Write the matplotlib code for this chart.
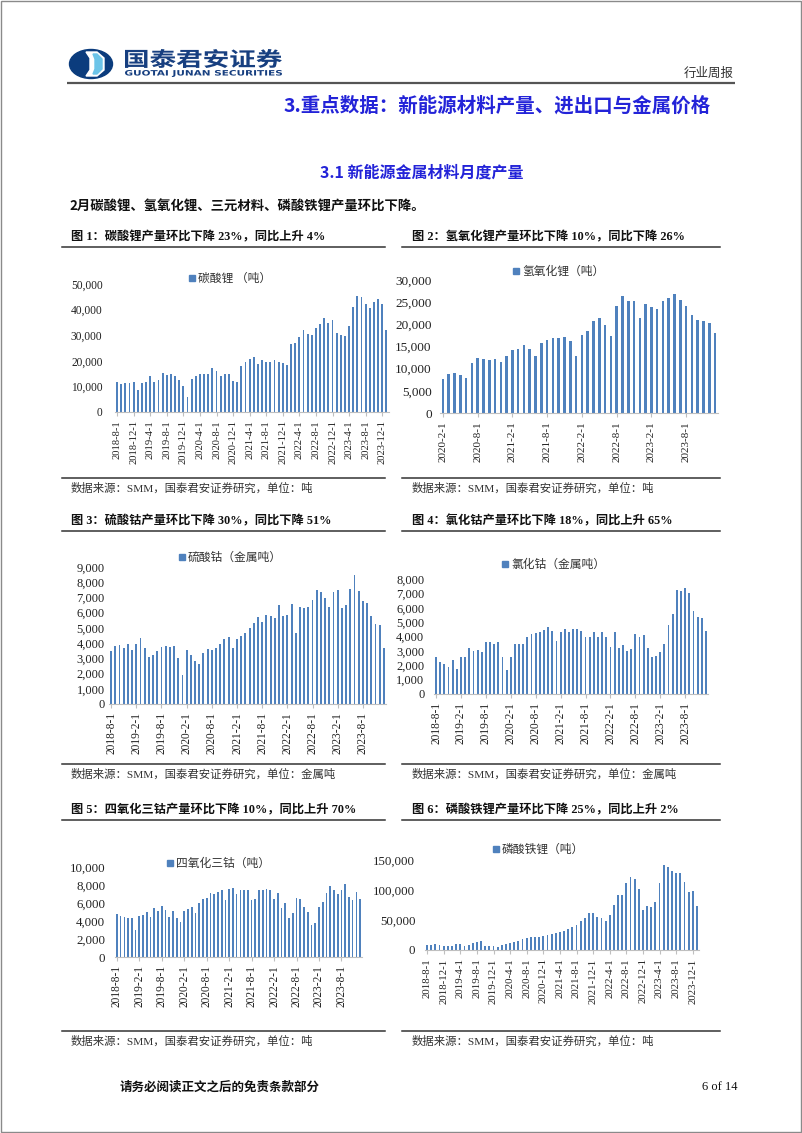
import numpy as np
import matplotlib
matplotlib.use('Agg')
import matplotlib.pyplot as plt
from matplotlib.patches import Ellipse, Polygon, Rectangle, PathPatch
from matplotlib.textpath import TextPath
from matplotlib.font_manager import FontProperties
import matplotlib.transforms as mtransforms

# ---------------- data ----------------
def months(y, m, n):
    out = []
    for i in range(n):
        yy = y + (m - 1 + i) // 12
        mm = (m - 1 + i) % 12 + 1
        out.append(f'{yy}-{mm}-1')
    return out

cat_2018 = months(2018, 8, 66)
cat_2020 = months(2020, 2, 48)

li2co3 = [11800, 11000, 11300, 11500, 11800, 8500, 11200, 11800, 14000, 11800,
          12500, 15200, 14500, 15000, 14000, 12500, 10000, 6000, 13000, 14000,
          14800, 14800, 14800, 17000, 16000, 14000, 14800, 14800, 12200, 11800,
          17800, 19500, 20800, 21300, 18800, 20500, 19500, 19500, 20300, 19500,
          19000, 18500, 26500, 26800, 29300, 32000, 30500, 30000, 32800, 34500,
          36600, 34700, 36000, 31000, 30000, 29700, 33500, 41000, 45500, 45000,
          42000, 40500, 43000, 44200, 42000, 32000]

lioh = [7700, 8800, 9000, 8600, 7900, 11300, 12400, 12200, 12000, 12100,
        11500, 12900, 14200, 14400, 15400, 14500, 12900, 15800, 16500, 17000,
        17000, 17100, 16300, 12900, 17600, 18500, 20800, 21500, 19900, 17400,
        24200, 26400, 25300, 25300, 21500, 24500, 24000, 23500, 25300, 26000,
        26800, 25600, 24200, 22100, 21000, 20800, 20300, 18100]

coso4 = [3450, 3800, 3850, 3700, 3950, 3550, 3950, 4350, 3650, 3100,
         3250, 3450, 3750, 3800, 3750, 3800, 3050, 1900, 3550, 3200,
         2800, 2650, 3350, 3600, 3550, 3650, 3950, 4250, 4400, 3650,
         4300, 4450, 4650, 5000, 5300, 5700, 5400, 5850, 5800, 5650,
         6500, 5800, 5850, 6550, 4650, 6400, 6300, 6400, 6850, 7500,
         7350, 6950, 6400, 7350, 7500, 6300, 6500, 7550, 8450, 7400,
         6750, 6650, 5800, 5250, 5200, 3650]

cocl2 = [2550, 2250, 2100, 1900, 2400, 1750, 2600, 2600, 3200, 3000,
         3050, 2950, 3600, 3600, 3450, 3600, 2550, 1650, 2600, 3450,
         3500, 3450, 4000, 4150, 4250, 4300, 4450, 4650, 4400, 3700,
         4300, 4500, 4300, 4500, 4500, 4400, 4000, 4000, 4300, 4000,
         4300, 3950, 3300, 4300, 3200, 3400, 3000, 3150, 4150, 3950,
         4100, 3200, 2600, 2650, 2900, 3500, 4800, 5550, 7250, 7200,
         7350, 7000, 5800, 5350, 5300, 4350]

co3o4 = [4800, 4600, 4500, 4300, 4300, 3000, 4600, 4700, 5000, 4500,
         5400, 5100, 5700, 5200, 4500, 5100, 4300, 3900, 5100, 5300,
         5600, 4900, 6000, 6400, 6600, 7100, 7000, 7200, 7400, 6300,
         7600, 7700, 7000, 7500, 7400, 7400, 6300, 6400, 7400, 7400,
         7600, 7500, 6400, 7100, 5400, 6000, 4300, 4900, 6600, 6400,
         5600, 5000, 3600, 3800, 5600, 6100, 7100, 7900, 7400, 7000,
         7400, 8100, 6700, 6300, 7200, 6500]

lfp = [8000, 9000, 9500, 9000, 7000, 6500, 7000, 9500, 9500, 7500,
       8000, 11000, 13500, 14500, 7000, 6500, 7500, 5500, 9000, 10000,
       11000, 13000, 15000, 18000, 20000, 21000, 21500, 22500, 23500, 25000,
       27500, 28500, 30000, 32000, 35000, 38000, 42000, 48000, 53000, 62000,
       62500, 55000, 53000, 49000, 59000, 75000, 92000, 91000, 111000, 122000,
       118000, 101000, 66000, 73000, 71000, 80000, 111000, 141000, 139000, 131000,
       129000, 129000, 114000, 96000, 98000, 74000]

titles = ['图 1：碳酸锂产量环比下降 23%，同比上升 4%',
          '图 2：氢氧化锂产量环比下降 10%，同比下降 26%',
          '图 3：硫酸钴产量环比下降 30%，同比下降 51%',
          '图 4：氯化钴产量环比下降 18%，同比上升 65%',
          '图 5：四氧化三钴产量环比下降 10%，同比上升 70%',
          '图 6：磷酸铁锂产量环比下降 25%，同比上升 2%']
legends = ['碳酸锂 （吨）', '氢氧化锂（吨）', '硫酸钴（金属吨）',
           '氯化钴（金属吨）', '四氧化三钴（吨）', '磷酸铁锂（吨）']
source_t = '数据来源：SMM，国泰君安证券研究，单位：吨'
source_m = '数据来源：SMM，国泰君安证券研究，单位：金属吨'

# ---------------- style ----------------
W, H = 802, 1133
BAR = '#4F81BD'
SERIF = ['Liberation Serif', 'Noto Sans CJK SC']
CJK = ['Noto Sans CJK SC', 'DejaVu Sans']
BLUE = '#2323D8'

fig = plt.figure(figsize=(W / 100, H / 100), dpi=100)
fig.patch.set_facecolor('white')
page = fig.add_axes([0, 0, 1, 1])
page.set_xlim(0, W)
page.set_ylim(H, 0)
page.axis('off')

# page border
page.add_patch(Rectangle((0.5, 0.5), W - 1.5, H - 1.5, fill=False, ec='#8a8a8a', lw=1.0))

# ---------------- header ----------------
page.add_patch(Ellipse((91, 64), 43, 29, color='#0B3C7D'))
page.add_patch(Polygon([(86, 52), (97, 52), (104, 58), (104, 70), (97, 76), (86, 76), (90, 70), (90, 58)],
                       closed=True, color='white'))
page.add_patch(Polygon([(93, 54), (97, 54), (102, 59), (102, 69), (97, 74), (93, 74), (95, 69), (95, 59)],
                       closed=True, color='#6CC4E8'))


def stretched_text(s, family, weight, x0, x1, ytop, ybot, color):
    tp = TextPath((0, 0), s, size=10, prop=FontProperties(family=family, weight=weight))
    bb = tp.get_extents()
    sx = (x1 - x0) / bb.width
    sy = (ybot - ytop) / bb.height
    tr = mtransforms.Affine2D().translate(-bb.x0, -bb.y0).scale(sx, -sy).translate(x0, ybot)
    page.add_patch(PathPatch(tp, transform=tr + page.transData, color=color, lw=0))


stretched_text('国泰君安证券', 'Noto Sans CJK SC', 'bold', 125, 282, 49, 68, '#173F80')
stretched_text('GUOTAI JUNAN SECURITIES', 'DejaVu Sans', 'bold', 125, 282, 70, 77, '#173F80')
page.text(734, 73, '行业周报', fontsize=9, family=CJK, color='#333333', ha='right', va='center')
page.plot([67, 735], [83, 83], color='#555555', lw=1.6, solid_capstyle='butt')

page.text(711, 106, '3.重点数据：新能源材料产量、进出口与金属价格', fontsize=14, family=CJK,
          weight='bold', color=BLUE, ha='right', va='center')
page.text(422, 173, '3.1 新能源金属材料月度产量', fontsize=11.5, family=CJK,
          weight='bold', color=BLUE, ha='center', va='center')
page.text(69, 207, '2月碳酸锂、氢氧化锂、三元材料、磷酸铁锂产量环比下降。', fontsize=9.6, family=CJK,
          weight='bold', color='#111111', ha='left', va='center')

# ---------------- figure frames ----------------
cols = [(62, 385, 71), (402, 720, 412)]
rows = [(237, 247, 478, 488, source_t), (521, 531, 764, 774, source_m), (810, 820, 1031, 1041, source_t)]
k = 0
for (ty, tl, sl, sy, src) in rows:
    for (xl, xr, tx) in cols:
        page.text(tx, ty, titles[k], fontsize=8.8, family=SERIF, weight='bold', color='#111111',
                  ha='left', va='center')
        page.plot([xl, xr], [tl, tl], color='#333333', lw=1.1)
        page.plot([xl, xr], [sl, sl], color='#333333', lw=1.1)
        page.text(tx, sy, src, fontsize=8.2, family=SERIF, color='#333333', ha='left', va='center')
        k += 1

page.text(120, 1087, '请务必阅读正文之后的免责条款部分', fontsize=9, family=CJK, weight='bold',
          color='#111111', ha='left', va='center')
page.text(738, 1087, '6 of 14', fontsize=9, family=SERIF, color='#111111', ha='right', va='center')


# ---------------- charts ----------------
def chart(vals, cats, step, left, right, y0, ytop, ymax, ystep, ypad, ysize, xsize,
          leg, legx, legy):
    ax = fig.add_axes([left / W, 1 - y0 / H, (right - left) / W, (y0 - ytop) / H])
    ax.patch.set_alpha(0)
    x = np.arange(len(vals))
    ax.bar(x, vals, width=0.45, color=BAR, edgecolor='none')
    ax.set_xlim(-0.5, len(vals) - 0.5)
    ax.set_ylim(0, ymax)
    yt = np.arange(0, ymax + 1, ystep)
    ax.set_yticks(yt)
    ax.set_yticklabels([f'{int(v):,}' for v in yt], family=SERIF, fontsize=ysize, color='#222222')
    ax.set_xticks(x[::step])
    ax.set_xticklabels(cats[::step], rotation=90, family=SERIF, fontsize=xsize, color='#222222')
    for s in ['left', 'right', 'top']:
        ax.spines[s].set_visible(False)
    ax.spines['bottom'].set_color('#BFBFBF')
    ax.spines['bottom'].set_linewidth(0.8)
    ax.tick_params(axis='y', length=0, pad=ypad)
    ax.tick_params(axis='x', length=3, color='#BFBFBF', width=0.8, pad=3)
    page.add_patch(Rectangle((legx, legy - 3), 6, 6, color=BAR))
    page.text(legx + 9, legy, leg, fontsize=8.5, family=CJK, color='#333333', ha='left', va='center')
    return ax


chart(li2co3, cat_2018, 4, 115, 388.5, 412, 284, 50000, 10000, 9, 8.3, 7.6, legends[0], 189, 278)
chart(lioh, cat_2020, 6, 440, 718, 413, 280, 30000, 5000, 6, 9.5, 8.0, legends[1], 513, 271)
chart(coso4, cat_2018, 6, 109, 386, 704, 567, 9000, 1000, 3, 9.0, 8.3, legends[2], 179, 557)
chart(cocl2, cat_2018, 6, 434, 708, 694, 579, 8000, 1000, 7, 9.0, 8.3, legends[3], 502, 564)
chart(co3o4, cat_2018, 6, 115, 362, 957, 867, 10000, 2000, 7, 9.3, 8.3, legends[4], 167, 863)
chart(lfp, cat_2018, 4, 425, 699, 950, 860, 150000, 50000, 7, 9.3, 7.8, legends[5], 493, 849)

fig.savefig('out.png', dpi=100, facecolor='white')
